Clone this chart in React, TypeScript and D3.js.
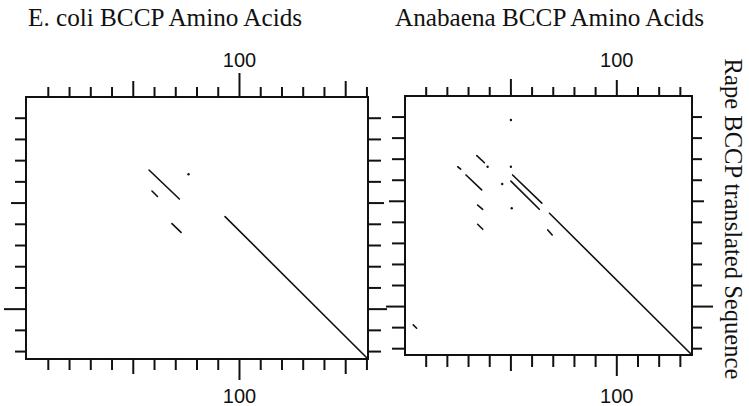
import React from "react";
import * as d3 from "d3";

// ---- Data ----
const ecoliTitle = "E. coli BCCP Amino Acids";
const anabaenaTitle = "Anabaena BCCP Amino Acids";
const yLabel = "Rape BCCP translated Sequence";

const ecoliXTicks = [10, 20, 30, 40, 50, 60, 70, 80, 90, 100, 110, 120, 130, 140, 150, 160];
const anabaenaXTicks = [10, 20, 30, 40, 50, 60, 70, 80, 90, 100, 110, 120, 130];
const rapeYTicks = [10, 20, 30, 40, 50, 60, 70, 80, 90, 100, 110, 120];
const labeledTicks = [100];

// segments: [x1, y1, x2, y2] in amino-acid positions
const ecoliSegments: number[][] = [
  [57.4, 34.4, 71.7, 48.1],
  [58.8, 44.3, 61.4, 46.9],
  [68.2, 59.7, 72.5, 63.8],
  [93.2, 56.4, 160.5, 123.5],
];
const ecoliDots: number[][] = [[76, 36.4]];

const anabaenaSegments: number[][] = [
  [33.9, 28.3, 37.5, 31.7],
  [24.9, 33.6, 26.3, 34.7],
  [28.8, 37.5, 36.2, 44.6],
  [50.8, 37.5, 64.6, 50.9],
  [50.0, 40.4, 63.4, 53.8],
  [34.3, 51.8, 36.7, 53.8],
  [34.3, 60.9, 36.7, 63.3],
  [67.4, 63.6, 69.5, 66.0],
  [68.2, 55.7, 135.5, 123],
  [3.9, 108.7, 5.5, 110.3],
];
const anabaenaDots: number[][] = [
  [50.0, 11.4],
  [39.0, 33.6],
  [50.0, 33.6],
  [45.9, 41.8],
  [50.4, 53.3],
];

type Panel = {
  title: string;
  titleX: number;
  xDomain: [number, number];
  xRange: [number, number];
  yDomain: [number, number];
  yRange: [number, number];
  xTicks: number[];
  segments: number[][];
  dots: number[][];
  leftLen: (v: number) => number;
  rightLen: (v: number) => number;
  topLen: (v: number) => number;
  botLen: (v: number) => number;
};

const panels: Panel[] = [
  {
    title: ecoliTitle,
    titleX: 28,
    xDomain: [-0.5, 160.5],
    xRange: [26, 368],
    yDomain: [0, 123.5],
    yRange: [97, 359],
    xTicks: ecoliXTicks,
    segments: ecoliSegments,
    dots: ecoliDots,
    leftLen: (v) => (v === 100 ? 22 : v === 50 ? 15 : 11),
    rightLen: (v) => (v === 100 ? 19 : v === 50 ? 16 : 13),
    topLen: (v) => (v === 100 ? 24 : v % 50 === 0 ? 16 : 10),
    botLen: (v) => (v === 100 ? 21 : v % 50 === 0 ? 15 : 11),
  },
  {
    title: anabaenaTitle,
    titleX: 395,
    xDomain: [0, 135.5],
    xRange: [405, 692],
    yDomain: [0, 123],
    yRange: [96, 355],
    xTicks: anabaenaXTicks,
    segments: anabaenaSegments,
    dots: anabaenaDots,
    leftLen: (v) => (v === 100 ? 19 : v === 50 ? 16 : 13),
    rightLen: (v) => (v === 100 ? 21 : v === 50 ? 12 : 10),
    topLen: (v) => (v === 100 ? 16 : v % 50 === 0 ? 17 : 9),
    botLen: (v) => (v === 100 ? 21 : v % 50 === 0 ? 16 : 12),
  },
];

const serif = "'Liberation Serif', 'Times New Roman', serif";
const sans = "'Liberation Sans', Arial, sans-serif";

function PanelView({ p }: { p: Panel }) {
  const x = d3.scaleLinear().domain(p.xDomain).range(p.xRange);
  const y = d3.scaleLinear().domain(p.yDomain).range(p.yRange);
  const [x0, x1] = p.xRange;
  const [y0, y1] = p.yRange;
  const tickStroke = 2;
  return (
    <g>
      <text x={p.titleX} y={26} fontFamily={serif} fontSize={25.2} fill="#111">
        {p.title}
      </text>
      {/* frame */}
      <rect x={x0} y={y0} width={x1 - x0} height={y1 - y0} fill="none" stroke="#111" strokeWidth={2} />
      {/* top & bottom ticks */}
      {p.xTicks.map((v) => (
        <g key={"x" + v}>
          <line x1={x(v)} x2={x(v)} y1={y0} y2={y0 - p.topLen(v)} stroke="#111" strokeWidth={tickStroke} />
          <line x1={x(v)} x2={x(v)} y1={y1} y2={y1 + p.botLen(v)} stroke="#111" strokeWidth={tickStroke} />
          {labeledTicks.includes(v) && (
            <>
              <text x={x(v)} y={67} textAnchor="middle" fontFamily={sans} fontSize={20} fill="#111">
                {v}
              </text>
              <text x={x(v)} y={403} textAnchor="middle" fontFamily={sans} fontSize={20} fill="#111">
                {v}
              </text>
            </>
          )}
        </g>
      ))}
      {/* left & right ticks */}
      {rapeYTicks.map((v) => (
        <g key={"y" + v}>
          <line x1={x0} x2={x0 - p.leftLen(v)} y1={y(v)} y2={y(v)} stroke="#111" strokeWidth={tickStroke} />
          <line x1={x1} x2={x1 + p.rightLen(v)} y1={y(v)} y2={y(v)} stroke="#111" strokeWidth={tickStroke} />
        </g>
      ))}
      {/* dot-plot matches */}
      {p.segments.map((s, i) => (
        <line
          key={"s" + i}
          x1={x(s[0])}
          y1={y(s[1])}
          x2={x(s[2])}
          y2={y(s[3])}
          stroke="#111"
          strokeWidth={1.6}
          strokeLinecap="round"
        />
      ))}
      {p.dots.map((d, i) => (
        <circle key={"d" + i} cx={x(d[0])} cy={y(d[1])} r={1.2} fill="#111" />
      ))}
    </g>
  );
}

export default function App() {
  return (
    <svg width={749} height={406} style={{ position: "absolute", left: 0, top: 0, background: "#fff" }}>
      <rect width={749} height={406} fill="#fff" />
      {panels.map((p, i) => (
        <PanelView key={i} p={p} />
      ))}
      <text
        transform="translate(725, 219) rotate(90)"
        textAnchor="middle"
        fontFamily={serif}
        fontSize={24.6}
        fill="#111"
      >
        {yLabel}
      </text>
    </svg>
  );
}
